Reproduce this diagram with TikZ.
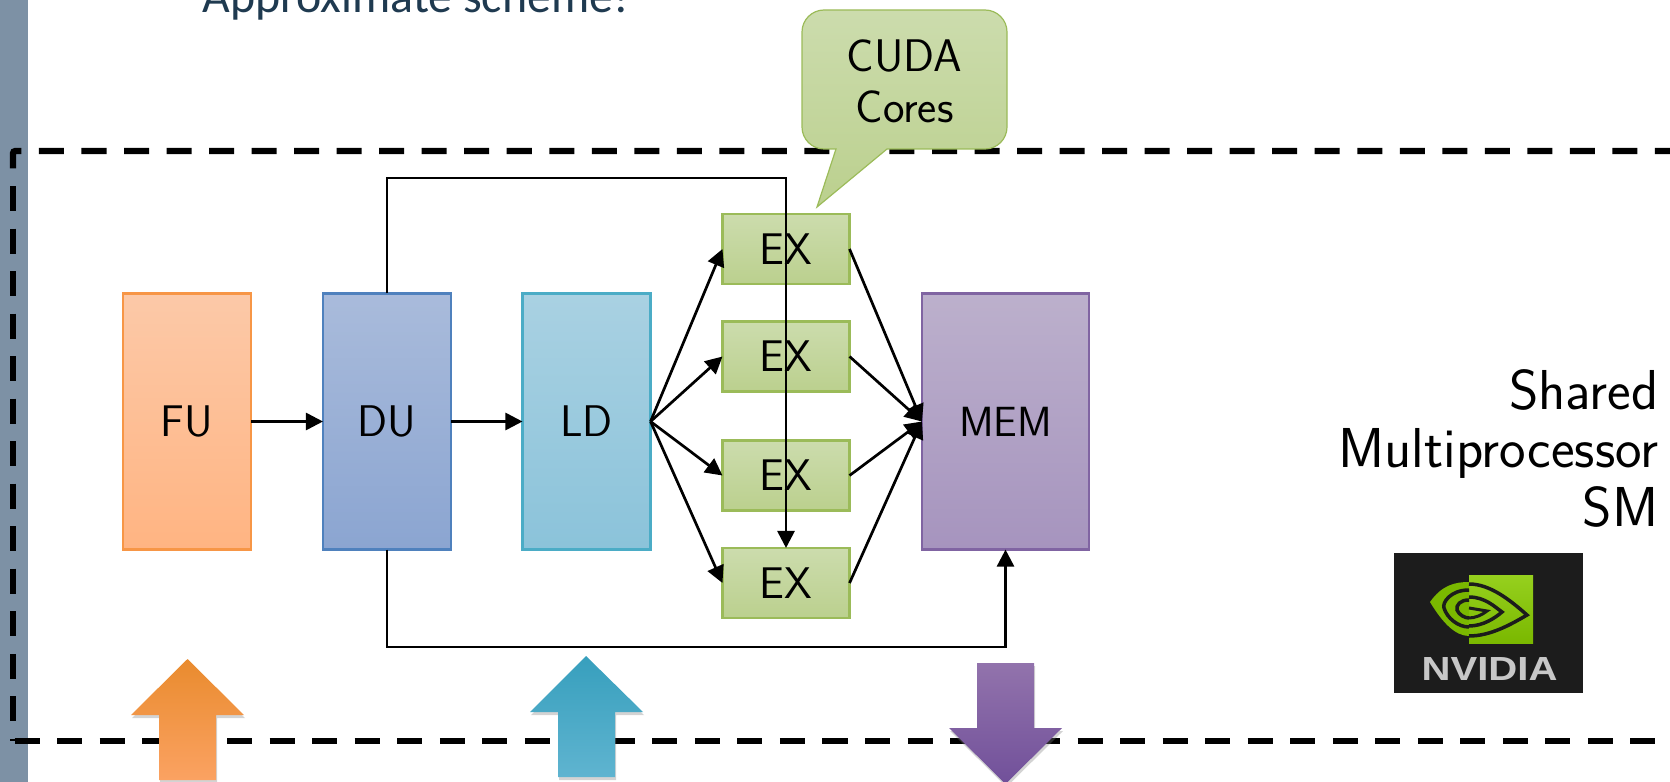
\documentclass[tikz,border=0pt]{standalone}
\usepackage{fontspec}
\setsansfont{Latin Modern Sans}[OpticalSize=17]
\newfontfamily\titlefont{Carlito}
\newfontfamily\logofont{Liberation Sans}
\usetikzlibrary{arrows.meta,shadows}
\definecolor{stripgray}{HTML}{7D91A5}
\definecolor{titleblue}{HTML}{1F3A50}
\definecolor{logogreen}{HTML}{7AB800}
\definecolor{logolight}{HTML}{96D01E}
\definecolor{logodark}{HTML}{1C1C1C}
\definecolor{FUline}{HTML}{F79646}
\definecolor{FUtop}{HTML}{FCC9A8}
\definecolor{FUbot}{HTML}{FFB482}
\definecolor{FUarrowA}{HTML}{E98B2E}
\definecolor{FUarrowB}{HTML}{FF9640}
\definecolor{FUarrowC}{HTML}{FBA262}
\definecolor{DUline}{HTML}{4F81BD}
\definecolor{DUtop}{HTML}{A9BBDB}
\definecolor{DUbot}{HTML}{8BA5D1}
\definecolor{LDline}{HTML}{4BACC6}
\definecolor{LDtop}{HTML}{A9D1E2}
\definecolor{LDbot}{HTML}{8BC3DA}
\definecolor{LDarrowA}{HTML}{379FBD}
\definecolor{LDarrowB}{HTML}{42ADCA}
\definecolor{LDarrowC}{HTML}{5FB4D0}
\definecolor{EXline}{HTML}{9BBB59}
\definecolor{EXtop}{HTML}{CCDCAD}
\definecolor{EXbot}{HTML}{BBD08E}
\definecolor{MEMline}{HTML}{8064A2}
\definecolor{MEMtop}{HTML}{BCB0CC}
\definecolor{MEMbot}{HTML}{A694BE}
\definecolor{MEMarrowA}{HTML}{9273AC}
\definecolor{MEMarrowB}{HTML}{71509A}
\tikzset{
    unitbox/.style={draw=#1, line width=0.025cm, outer sep=0pt, inner sep=0pt, font=\sffamily\fontsize{12.6}{15}\selectfont},
    stagebox/.style={unitbox=#1, minimum width=1.28cm, minimum height=2.56cm},
    exbox/.style={unitbox=EXline, minimum width=1.27cm, minimum height=0.7cm, top color=EXtop, bottom color=EXbot},
    link/.style={line width=0.027cm, -{Triangle[length=0.17cm,width=0.17cm]}},
    frameline/.style={line width=0.06cm, dash pattern=on 0.25cm off 0.175cm},
    bigarrow/.style={drop shadow={shadow xshift=0.01cm, shadow yshift=-0.03cm, opacity=0.35}},
}
\begin{document}
\begin{tikzpicture}[x=0.01cm, y=-0.01cm]
        \useasboundingbox (0,0) rectangle (1670,782);
        \clip (0,0) rectangle (1670,782);
        \fill[stripgray] (0,0) rectangle (28,782);
        \node[anchor=base west, inner sep=0pt, text=titleblue, font=\titlefont\fontsize{13.6}{16}\selectfont] (title) at (202,12.7) {Approximate scheme!};

        \draw[frameline, rounded corners=0.02cm] (13,168.5) -- (13,151) -- (1700,151);
        \draw[frameline, dash phase=0.25cm] (13,168.5) -- (13,741);
        \draw[frameline] (14.5,741) -- (1700,741);

        \draw[draw=EXline, line width=0.012cm, top color=EXtop, bottom color=EXbot] (836,149) [rounded corners=0.22cm] -- (802,149) -- (802,10) -- (1007,10) -- (1007,149) [sharp corners] -- (887,149) -- (817,207) -- cycle;
        \node[align=center, inner sep=0pt, font=\sffamily\fontsize{13}{14.5}\selectfont] (callout) at (904.5,81) {CUDA\\Cores};

        \node[stagebox=FUline, top color=FUtop, bottom color=FUbot] (FU) at (187,421.5) {FU};
        \node[stagebox=DUline, top color=DUtop, bottom color=DUbot] (DU) at (387,421.5) {DU};
        \node[stagebox=LDline, top color=LDtop, bottom color=LDbot] (LD) at (586.5,421.5) {LD};
        \node[exbox] (EX1) at (786,249) {EX};
        \node[exbox] (EX2) at (786,356.5) {EX};
        \node[exbox] (EX3) at (786,475.5) {EX};
        \node[exbox] (EX4) at (786,583) {EX};
        \node[unitbox=MEMline, minimum width=1.67cm, minimum height=2.56cm, top color=MEMtop, bottom color=MEMbot, font=\sffamily\fontsize{12}{15}\selectfont] (MEM) at (1005.5,421.5) {MEM};

        \coordinate (busTop) at (786,178);
        \coordinate (busBot) at (1005.5,647);

        \draw[link] (FU) -- (DU);
        \draw[link] (DU) -- (LD);
        \draw[link] (LD.east) -- (EX1.west);
        \draw[link] (LD.east) -- (EX2.west);
        \draw[link] (LD.east) -- (EX3.west);
        \draw[link] (LD.east) -- (EX4.west);
        \draw[link] (EX1.east) -- (MEM.west);
        \draw[link] (EX2.east) -- (MEM.west);
        \draw[link] (EX3.east) -- (MEM.west);
        \draw[link] (EX4.east) -- (MEM.west);
        \draw[link] (DU.north) |- (busTop) -- (EX4.north);
        \draw[link] (DU.south) |- (busBot) -- (MEM.south);

        \path[bigarrow, top color=FUarrowA, middle color=FUarrowB, bottom color=FUarrowC] (187.5,659) -- (244,715) -- (216,715) -- (216,780) -- (159,780) -- (159,715) -- (131,715) -- cycle;
        \path[bigarrow, top color=LDarrowA, middle color=LDarrowB, bottom color=LDarrowC] (586,656) -- (643,712) -- (615,712) -- (615,777) -- (558,777) -- (558,712) -- (530,712) -- cycle;
        \path[bigarrow, top color=MEMarrowA, bottom color=MEMarrowB] (977,663) -- (1034,663) -- (1034,728) -- (1062,728) -- (1005.5,784) -- (949,728) -- (977,728) -- cycle;

        \node[anchor=base east, align=right, inner sep=0pt, font=\sffamily\fontsize{16}{16.5}\selectfont] (smLabel) at (1659,526) {Shared\\Multiprocessor\\SM};

        \fill[logodark] (1394,553) rectangle (1583,693);
        \shade[top color=logolight, bottom color=logogreen] (1469,575) rectangle (1533,643);
        \fill[logogreen] (1430,602) .. controls (1442,585) and (1455,582) .. (1469,582) -- (1469,636) .. controls (1455,636) and (1442,622) .. (1430,602) -- cycle;
        \draw[logodark, line width=0.035cm] (1469,590) .. controls (1450,590) and (1442,603) .. (1444,608) .. controls (1447,618) and (1458,627) .. (1469,627);
        \draw[logodark, line width=0.035cm] (1469,600) .. controls (1460,600) and (1456,605) .. (1457,610) .. controls (1459,615) and (1465,618) .. (1469,618);
        \draw[logodark, line width=0.035cm] (1469,584) .. controls (1490,584) and (1510,600) .. (1527,615) .. controls (1510,625) and (1490,636) .. (1469,636);
        \draw[logodark, line width=0.035cm] (1469,597) .. controls (1485,597) and (1495,607) .. (1502,612) .. controls (1495,618) and (1483,626) .. (1469,626);
        \draw[logodark, line width=0.03cm] (1469,608) -- (1487,611) .. controls (1482,615) and (1475,618) .. (1469,618);
        \node[anchor=base, inner sep=0pt, xscale=1.2, text=black!22, font=\logofont\bfseries\fontsize{9.5}{10}\selectfont] (logoText) at (1489.5,680) {NVIDIA};
    \end{tikzpicture}
\end{document}
